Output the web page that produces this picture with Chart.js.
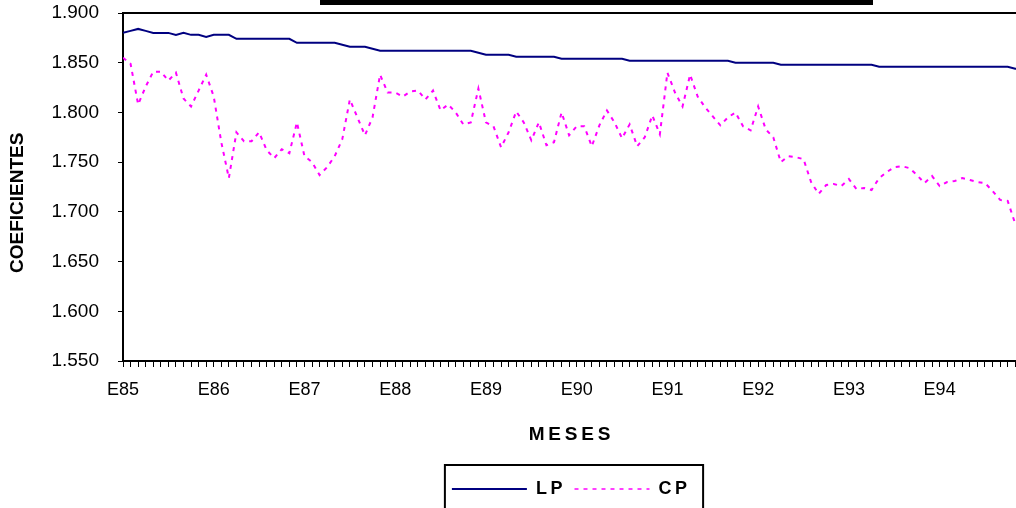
<!DOCTYPE html>
<html><head><meta charset="utf-8">
<script src="https://cdn.jsdelivr.net/npm/chart.js@4/dist/chart.umd.min.js"></script>
<style>html,body{margin:0;padding:0;background:#fff;overflow:hidden}#wrap{width:1016px;height:508px;position:relative}</style>
</head><body><div id="wrap"><canvas id="c"></canvas></div>
<script>
const yearLabels = ['E85','E86','E87','E88','E89','E90','E91','E92','E93','E94'];
const yTickValues = [1.550,1.600,1.650,1.700,1.750,1.800,1.850,1.900];
const seriesNames = ['L\u2009P','C\u2009P'];
const lpValues = [
 1.880,1.882,1.884,1.882,1.880,1.880,1.880,1.878,1.880,1.878,1.878,1.876,
 1.878,1.878,1.878,1.874,1.874,1.874,1.874,1.874,1.874,1.874,1.874,1.870,
 1.870,1.870,1.870,1.870,1.870,1.868,1.866,1.866,1.866,1.864,1.862,1.862,
 1.862,1.862,1.862,1.862,1.862,1.862,1.862,1.862,1.862,1.862,1.862,1.860,
 1.858,1.858,1.858,1.858,1.856,1.856,1.856,1.856,1.856,1.856,1.854,1.854,
 1.854,1.854,1.854,1.854,1.854,1.854,1.854,1.852,1.852,1.852,1.852,1.852,
 1.852,1.852,1.852,1.852,1.852,1.852,1.852,1.852,1.852,1.850,1.850,1.850,
 1.850,1.850,1.850,1.848,1.848,1.848,1.848,1.848,1.848,1.848,1.848,1.848,
 1.848,1.848,1.848,1.848,1.846,1.846,1.846,1.846,1.846,1.846,1.846,1.846,
 1.846,1.846,1.846,1.846,1.846,1.846,1.846,1.846,1.846,1.846,1.844,1.843
];
const cpValues = [
 1.855,1.849,1.808,1.826,1.841,1.841,1.832,1.840,1.814,1.806,1.822,1.838,
 1.816,1.770,1.734,1.780,1.771,1.771,1.780,1.762,1.754,1.763,1.759,1.790,
 1.756,1.750,1.737,1.745,1.756,1.773,1.813,1.795,1.777,1.795,1.838,1.820,
 1.820,1.816,1.821,1.822,1.813,1.822,1.802,1.808,1.800,1.788,1.790,1.824,
 1.790,1.786,1.765,1.780,1.801,1.790,1.772,1.790,1.767,1.770,1.800,1.777,
 1.786,1.786,1.766,1.787,1.802,1.790,1.774,1.788,1.766,1.775,1.797,1.778,
 1.840,1.820,1.806,1.838,1.816,1.805,1.796,1.787,1.795,1.800,1.786,1.782,
 1.806,1.783,1.775,1.750,1.756,1.755,1.753,1.730,1.718,1.727,1.728,1.726,
 1.733,1.723,1.724,1.722,1.734,1.740,1.745,1.746,1.744,1.737,1.729,1.736,
 1.726,1.730,1.731,1.734,1.732,1.730,1.729,1.721,1.712,1.711,1.688,1.680
];
const monthIndex = lpValues.map((_, i) => i);
const visibleMonths = 118.1;

Chart.defaults.font.family = '"Liberation Sans", Arial, sans-serif';
Chart.defaults.color = '#000';

function noPad(s) { s.paddingTop = 0; s.paddingBottom = 0; s.paddingLeft = 0; s.paddingRight = 0; }

const decor = {
  id: 'decor',
  afterDraw(chart) {
    const {ctx, chartArea: a, legend} = chart;
    ctx.save();
    ctx.strokeStyle = '#000';
    ctx.lineWidth = 2;
    ctx.beginPath(); ctx.moveTo(a.left - 1, a.top); ctx.lineTo(chart.width, a.top); ctx.stroke();
    ctx.fillStyle = '#000';
    ctx.fillRect(320, 0, 553, 5);
    const hb = legend.legendHitBoxes;
    const f = hb[0], l = hb[hb.length - 1];
    const x0 = f.left - 7, x1 = l.left + l.width + 16;
    const yc = f.top + f.height / 2;
    ctx.strokeRect(x0, yc - 24, x1 - x0, 80);
    ctx.restore();
  }
};

new Chart(document.getElementById('c'), {
  type: 'line',
  data: {
    datasets: [
      { label: seriesNames[0], data: lpValues.map((v, i) => ({x: monthIndex[i], y: v})),
        borderColor: '#000080', backgroundColor: '#000080', borderWidth: 2, pointRadius: 0, tension: 0 },
      { label: seriesNames[1], data: cpValues.map((v, i) => ({x: monthIndex[i], y: v})),
        borderColor: '#FF00FF', backgroundColor: '#FF00FF', borderWidth: 2, borderDash: [4, 5], pointRadius: 0, tension: 0 }
    ]
  },
  options: {
    responsive: true, maintainAspectRatio: false, animation: false, devicePixelRatio: 1,
    layout: { autoPadding: false, padding: { top: 13, left: 0, right: 0, bottom: 0 } },
    plugins: {
      tooltip: { enabled: false },
      legend: {
        position: 'bottom', fullSize: false,
        labels: { usePointStyle: true, pointStyle: 'line', pointStyleWidth: 75, boxHeight: 18,
          padding: 12, font: { size: 18, weight: 'bold' }, color: '#000',
          generateLabels: chart => {
            const items = Chart.defaults.plugins.legend.labels.generateLabels(chart);
            items.forEach(it => {
              const ds = chart.data.datasets[it.datasetIndex];
              it.lineDash = ds.borderDash || [];
              it.lineWidth = it.datasetIndex === 0 ? 2 : 1.5;
              it.strokeStyle = ds.borderColor;
              it.fillStyle = ds.borderColor;
            });
            return items;
          } }
      }
    },
    scales: {
      x: {
        type: 'linear', min: 0, max: visibleMonths,
        afterBuildTicks: s => { s.ticks = monthIndex.filter(v => v <= visibleMonths).map(v => ({value: v})); },
        afterFit: s => { s.height = 107; noPad(s); },
        ticks: { autoSkip: false, maxRotation: 0, padding: 12, font: { size: 18 }, color: '#000',
          callback: v => (v % 12 === 0 ? yearLabels[v / 12] : '') },
        grid: { drawOnChartArea: false, drawTicks: true, tickLength: 6, color: '#000', lineWidth: 1 },
        border: { display: true, color: '#000', width: 2 },
        title: { display: true, text: 'M\u2009E\u2009S\u2009E\u2009S', font: { size: 19, weight: 'bold' }, color: '#000',
          padding: { top: 22, bottom: 22 } }
      },
      y: {
        min: 1.55, max: 1.9,
        afterBuildTicks: s => { s.ticks = yTickValues.map(v => ({value: v})); },
        afterFit: s => { s.width = 123; noPad(s); },
        ticks: { padding: 19, font: { size: 19 }, color: '#000', callback: v => v.toFixed(3) },
        grid: { drawOnChartArea: false, drawTicks: true, tickLength: 5, color: '#000', lineWidth: 1 },
        border: { display: true, color: '#000', width: 2 },
        title: { display: true, text: 'COEFICIENTES\u00A0\u00A0\u00A0\u00A0\u00A0\u00A0', font: { size: 19, weight: 'bold' }, color: '#000',
          padding: { top: 6, bottom: 23 } }
      }
    }
  },
  plugins: [decor]
});
</script>
</body></html>
